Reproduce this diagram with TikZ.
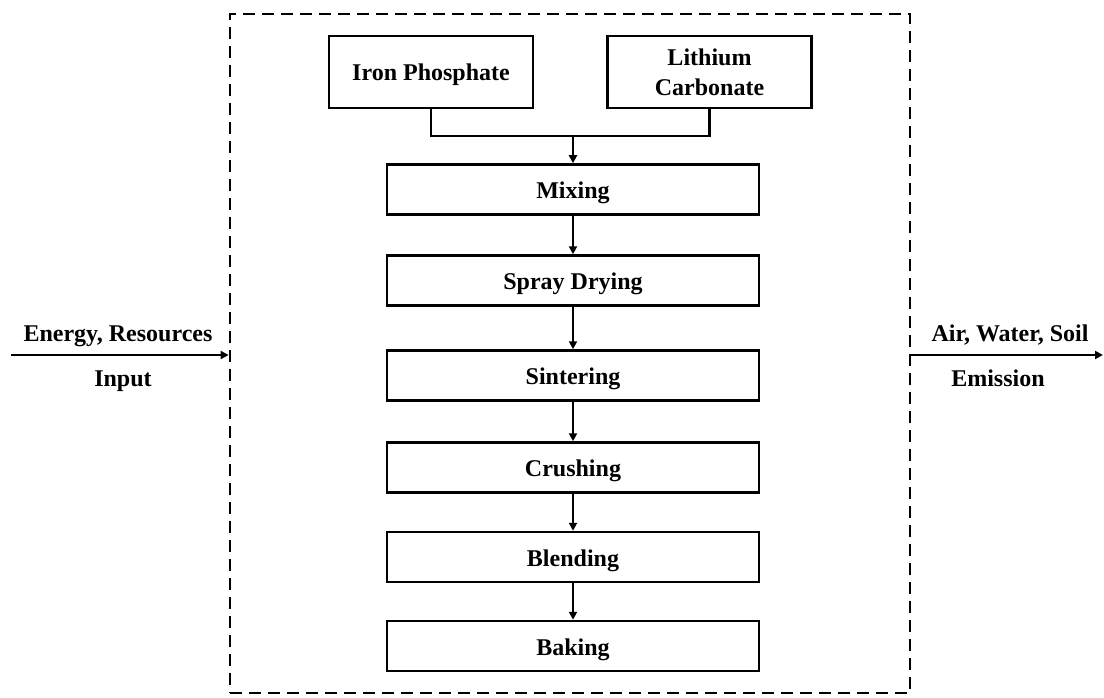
\documentclass[tikz,border=0pt]{standalone}
\usepackage{fontspec}
\setmainfont{Liberation Serif}
\usetikzlibrary{arrows.meta}
\begin{document}
\begin{tikzpicture}[x=1pt,y=-1pt,
  txt/.style={font=\fontsize{24}{30}\selectfont\bfseries,inner sep=0pt},
  srcbox/.style={txt,draw,line width=2.5pt,minimum width=204pt,minimum height=72pt,align=center,text depth=0pt},
  procbox/.style={txt,draw,line width=2.5pt,minimum width=372pt,minimum height=50pt,text height=18pt,text depth=0pt},
  flow/.style={line width=2.2pt,-{Triangle[length=8pt,width=8pt]}},
  link/.style={line width=2.2pt},
  sidelab/.style={txt,anchor=base},
  boundary/.style={draw,line width=2.8pt,dash pattern=on 12pt off 7pt,minimum width=680pt,minimum height=679pt,inner sep=0pt}]
\useasboundingbox (0,0) rectangle (1104,698);

% system boundary
\node[boundary] (frame) at (570,353.5) {};

% raw materials
\node[srcbox,text height=18pt] (iron) at (431,72) {Iron Phosphate};
\node[srcbox] (lith) at (709.5,72) {Lithium\\Carbonate};

% process chain
\node[procbox] (mix)   at (573,189.5) {Mixing};
\node[procbox] (spray) at (573,280.5) {Spray Drying};
\node[procbox] (sint)  at (573,375.5) {Sintering};
\node[procbox] (crush) at (573,467.5) {Crushing};
\node[procbox] (blend) at (573,557)   {Blending};
\node[procbox] (bake)  at (573,646)   {Baking};

% merge of the two raw materials
\coordinate (join) at (573,136);
\draw[link] (iron.south) |- (join) -| (lith.south);
\draw[flow] (join) -- (mix.north);

\draw[flow] (mix.south) -- (spray.north);
\draw[flow] (spray.south) -- (sint.north);
\draw[flow] (sint.south) -- (crush.north);
\draw[flow] (crush.south) -- (blend.north);
\draw[flow] (blend.south) -- (bake.north);

% inputs and emissions
\coordinate (inL) at (11,355);
\coordinate (outR) at (1103,355);
\draw[flow] (inL) -- (inL -| frame.west);
\draw[flow] (outR -| frame.east) -- (outR);

\node[sidelab] (inlab)  at (118,341) {Energy, Resources};
\node[sidelab] (intype) at (123,386) {Input};
\node[sidelab] (outlab) at (1010,341) {Air, Water, Soil};
\node[sidelab] (outtype) at (998,386) {Emission};
\end{tikzpicture}
\end{document}
